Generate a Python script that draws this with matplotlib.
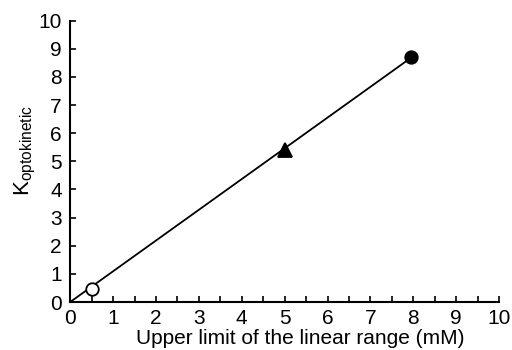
import numpy as np
import matplotlib
matplotlib.use("Agg")
import matplotlib.pyplot as plt
from matplotlib.ticker import MultipleLocator

plt.rcParams["font.family"] = ["Liberation Sans", "DejaVu Sans"]
plt.rcParams["mathtext.fontset"] = "custom"
plt.rcParams["mathtext.rm"] = "Liberation Sans"
plt.rcParams["mathtext.it"] = "Liberation Sans"

# data
upper_limit = [0.5, 5.0, 7.95]
k_opto = [0.46, 5.42, 8.72]
markers = ["o", "^", "o"]
filled = [False, True, True]

fig = plt.figure(figsize=(5.12, 3.5), dpi=100)
ax = fig.add_axes([0.137, 0.137, 0.838, 0.804])

# regression line through origin
x = np.array(upper_limit)
y = np.array(k_opto)
slope = (x @ y) / (x @ x)
xs = np.array([0, x.max()])
ax.plot(xs, slope * xs, color="black", lw=1.3, zorder=2)

for xi, yi, m, f in zip(upper_limit, k_opto, markers, filled):
    ax.plot(xi, yi, marker=m, ms=9 if m == "o" else 10, mec="black", mew=1.3,
            mfc="black" if f else "white", ls="none", zorder=3, clip_on=False)

ax.set_xlim(0, 10)
ax.set_ylim(0, 10)
ax.xaxis.set_major_locator(MultipleLocator(1))
ax.xaxis.set_minor_locator(MultipleLocator(0.5))
ax.yaxis.set_major_locator(MultipleLocator(1))
ax.tick_params(direction="in", length=4, width=1.2, labelsize=15)
ax.tick_params(axis="x", which="minor", direction="in", length=4, width=1.2)
ax.tick_params(axis="x", pad=5)
ax.tick_params(axis="y", pad=6)
for s in ["top", "right"]:
    ax.spines[s].set_visible(False)
for s in ["left", "bottom"]:
    ax.spines[s].set_linewidth(1.5)

ax.set_xlabel("Upper limit of the linear range (mM)", fontsize=15)
ax.xaxis.set_label_coords(0.536, -0.094)
ax.set_ylabel(r"K$_{\mathrm{optokinetic}}$", fontsize=16)
ax.yaxis.set_label_coords(-0.075, 0.54)

fig.savefig("out.png", dpi=100)
